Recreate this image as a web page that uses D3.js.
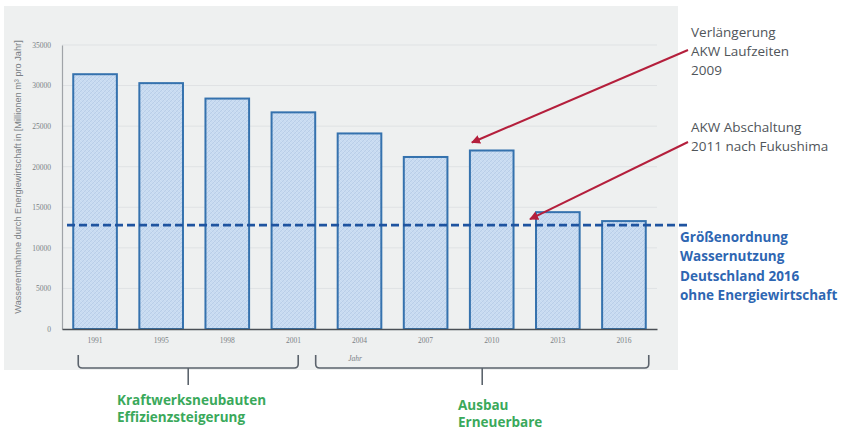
<!DOCTYPE html>
<html><head><meta charset="utf-8">
<script src="https://cdn.jsdelivr.net/npm/d3@7"></script>
<style>body{margin:0;background:#fff}svg{display:block}</style>
</head><body>
<svg id="c" width="848" height="433"></svg>
<script>
const years = ["1991","1995","1998","2001","2004","2007","2010","2013","2016"];
const values = [31400, 30300, 28400, 26700, 24100, 21200, 22000, 14400, 13300];
const yTicks = [0,5000,10000,15000,20000,25000,30000,35000];
const referenceValue = 12800;
const yTitle = "Wasserentnahme durch Energiewirtschaft in [Millionen m³ pro Jahr]";
const xTitle = "Jahr";
const annotations = [
  {lines:["Verlängerung","AKW Laufzeiten","2009"], target:"2010"},
  {lines:["AKW Abschaltung","2011 nach Fukushima"], target:"2013"}
];
const refLabel = ["Größenordnung","Wassernutzung","Deutschland 2016","ohne Energiewirtschaft"];
const groups = [
  {from:"1991", to:"2001", lines:["Kraftwerksneubauten","Effizienzsteigerung"]},
  {from:"2004", to:"2016", lines:["Ausbau","Erneuerbare"]}
];

const svg = d3.select("#c");
const x0 = 62, x1 = 657, yTop = 45, yBot = 329;
const x = d3.scaleBand().domain(years).range([x0, x1]).paddingInner(0.34).paddingOuter(0.17);
const y = d3.scaleLinear().domain([0, 35000]).range([yBot, yTop]);

// panel background
svg.append("rect").attr("x",4).attr("y",6).attr("width",674).attr("height",364).attr("fill","#eef0f0");

// pattern for bars
const defs = svg.append("defs");
const pat = defs.append("pattern").attr("id","hatch").attr("patternUnits","userSpaceOnUse").attr("width",4).attr("height",4);
pat.append("rect").attr("width",4).attr("height",4).attr("fill","#c8dbf1");
pat.append("path").attr("d","M0,4 L4,0 M-1,1 L1,-1 M3,5 L5,3").attr("stroke","#b3c9e4").attr("stroke-width",0.7);
pat.append("path").attr("d","M0,0 L4,4").attr("stroke","#d6e4f4").attr("stroke-width",0.5);

// gridlines
svg.append("g").selectAll("line").data(yTicks.filter(d=>d>0)).join("line")
  .attr("x1",x0).attr("x2",x1).attr("y1",d=>y(d)).attr("y2",d=>y(d))
  .attr("stroke","#dfe2e4").attr("stroke-width",1);

// y axis
const ya = svg.append("g").attr("transform",`translate(${x0},0)`)
  .call(d3.axisLeft(y).tickValues(yTicks).tickSize(0).tickPadding(11).tickFormat(d3.format("d")));
ya.select(".domain").attr("stroke","#a0a4a8").attr("stroke-width",1.2);
ya.selectAll("text").attr("font-family","Liberation Serif").attr("font-size",7.5).attr("fill","#7a7f85");

// bars
svg.append("g").selectAll("rect").data(years).join("rect")
  .attr("x",d=>x(d)).attr("width",x.bandwidth())
  .attr("y",(d,i)=>y(values[i])).attr("height",(d,i)=>yBot-y(values[i]))
  .attr("fill","url(#hatch)").attr("stroke","#3572ae").attr("stroke-width",2);

// x axis
const xa = svg.append("g").attr("transform",`translate(0,${yBot})`)
  .call(d3.axisBottom(x).tickSize(0).tickPadding(9));
xa.select(".domain").attr("stroke","#4a4f55").attr("stroke-width",1.5);
xa.selectAll("text").attr("font-family","Liberation Serif").attr("font-size",7.5).attr("fill","#7a7f85");

svg.append("text").attr("x",355).attr("y",361).attr("text-anchor","middle")
  .attr("font-family","Liberation Serif").attr("font-style","italic").attr("font-size",7.5).attr("fill","#7a7f85").text(xTitle);

svg.append("text").attr("transform",`translate(21,177) rotate(-90)`).attr("text-anchor","middle")
  .attr("font-family","Liberation Sans").attr("font-size",9.2).attr("fill","#7a7f85").text(yTitle);

// reference dashed line
svg.append("line").attr("x1",67).attr("x2",690).attr("y1",y(referenceValue)).attr("y2",y(referenceValue))
  .attr("stroke","#1f54a0").attr("stroke-width",2.6).attr("stroke-dasharray","8,4");

svg.append("g").selectAll("text").data(refLabel).join("text")
  .attr("x",680).attr("y",(d,i)=>242+i*19.3)
  .attr("font-family","Open Sans").attr("font-weight","bold").attr("font-size",13.5).attr("fill","#2e66b2").text(d=>d);

// annotations
const annY = [[37,56,75],[132,151]];
const arrowStart = [[688,50],[688,142]];
defs.append("marker").attr("id","arr").attr("viewBox","0 0 10 10").attr("refX",9).attr("refY",5)
  .attr("markerWidth",4.5).attr("markerHeight",4.5).attr("orient","auto")
  .append("path").attr("d","M0,0 L10,5 L0,10 z").attr("fill","#b41f3c");
annotations.forEach((a,k)=>{
  svg.append("g").selectAll("text").data(a.lines).join("text")
    .attr("x",691).attr("y",(d,i)=>annY[k][i])
    .attr("font-family","Open Sans").attr("font-size",13.5).attr("fill","#50555a").text(d=>d);
  const i = years.indexOf(a.target);
  const tx = x(a.target) + (k===0 ? 2 : -6);
  const ty = y(values[i]) - (k===0 ? 8 : -7);
  svg.append("line").attr("x1",arrowStart[k][0]).attr("y1",arrowStart[k][1]).attr("x2",tx).attr("y2",ty)
    .attr("stroke","#b41f3c").attr("stroke-width",2).attr("marker-end","url(#arr)");
});

// group brackets
const bracketOffsets = [[5,-17],[-22,3]];
groups.forEach((g,k)=>{
  const a = x(g.from)+bracketOffsets[k][0], b = x(g.to)+x.bandwidth()+bracketOffsets[k][1];
  const top = 355, bot = 368, r = 4, mid = (a+b)/2;
  const p = `M${a},${top} L${a},${bot-r} Q${a},${bot} ${a+r},${bot} L${b-r},${bot} Q${b},${bot} ${b},${bot-r} L${b},${top}`;
  svg.append("path").attr("d",p).attr("fill","none").attr("stroke","#5b636c").attr("stroke-width",1.6);
  svg.append("line").attr("x1",mid).attr("x2",mid).attr("y1",bot).attr("y2",385).attr("stroke","#5b636c").attr("stroke-width",1.6);
  const tx = k===0 ? 117 : 458;
  const ty = k===0 ? [405,422] : [410,427];
  svg.append("g").selectAll("text").data(g.lines).join("text")
    .attr("x",tx).attr("y",(d,i)=>ty[i])
    .attr("font-family","Open Sans").attr("font-weight","bold").attr("font-size",13.5).attr("fill","#3aa95b").text(d=>d);
});
</script>
</body></html>
